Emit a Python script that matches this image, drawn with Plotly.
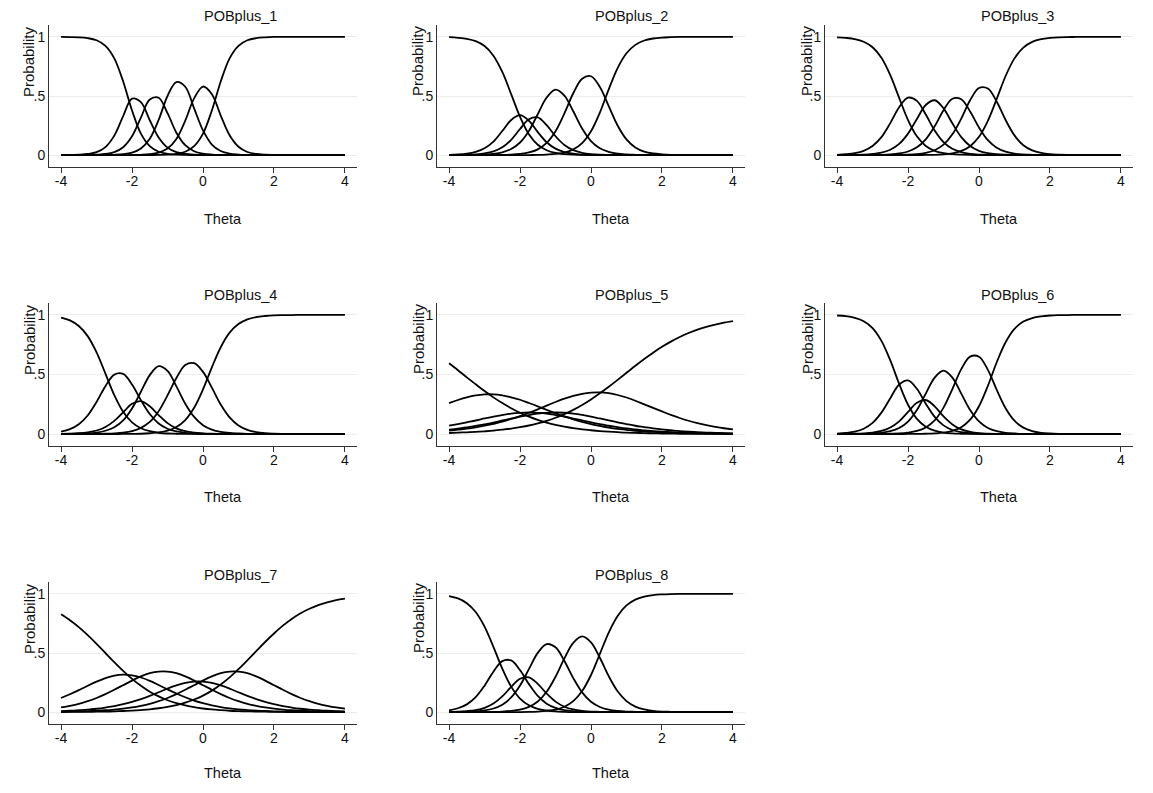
import plotly.graph_objects as go

# Theta grid (x values)
THETA = [-4.0, -3.75, -3.5, -3.25, -3.0, -2.75, -2.5, -2.25, -2.0, -1.75, -1.5,
         -1.25, -1.0, -0.75, -0.5, -0.25, 0.0, 0.25, 0.5, 0.75, 1.0, 1.25,
         1.5, 1.75, 2.0, 2.25, 2.5, 2.75, 3.0, 3.25, 3.5, 3.75, 4.0]

ITEMS = ["POBplus_1", "POBplus_2", "POBplus_3", "POBplus_4",
         "POBplus_5", "POBplus_6", "POBplus_7", "POBplus_8"]

X_TICKS = [-4, -2, 0, 2, 4]
X_TICKTEXT = ["-4", "-2", "0", "2", "4"]
Y_TICKS = [0, 0.5, 1]
Y_TICKTEXT = ["0", ".5", "1"]

# Category probability curves (6 categories per item)
POB1 = [
    [.999, .998, .996, .989, .971, .924, .818, .623, .378, .182, .076, .029, .011, .004, .002, .001,
     0, 0, 0, 0, 0, 0, 0, 0, 0, 0, 0, 0, 0, 0, 0, 0, 0],
    [.001, .001, .004, .010, .025, .068, .165, .330, .478, .448, .295, .150, .064, .025, .010, .004,
     .002, .001, 0, 0, 0, 0, 0, 0, 0, 0, 0, 0, 0, 0, 0, 0, 0],
    [0, 0, .001, .001, .004, .010, .026, .067, .159, .317, .470, .485, .355, .190, .084, .033,
     .013, .005, .002, .001, 0, 0, 0, 0, 0, 0, 0, 0, 0, 0, 0, 0, 0],
    [0, 0, 0, 0, 0, .001, .003, .008, .022, .057, .139, .298, .500, .618, .578, .395,
     .209, .090, .035, .013, .005, .002, .001, 0, 0, 0, 0, 0, 0, 0, 0, 0, 0],
    [0, 0, 0, 0, 0, 0, 0, 0, .001, .003, .008, .022, .056, .137, .292, .480,
     .580, .515, .335, .168, .071, .027, .010, .004, .002, .001, 0, 0, 0, 0, 0, 0, 0],
    [0, 0, 0, 0, 0, 0, 0, 0, 0, 0, .001, .002, .004, .011, .029, .076,
     .182, .378, .623, .818, .924, .971, .989, .996, .999, .999, 1, 1, 1, 1, 1, 1, 1],
]

POB2 = [
    [.997, .992, .983, .963, .922, .841, .703, .516, .324, .177, .088, .042, .019, .009, .004, .002,
     .001, 0, 0, 0, 0, 0, 0, 0, 0, 0, 0, 0, 0, 0, 0, 0, 0],
    [.003, .006, .013, .028, .058, .115, .204, .297, .338, .291, .195, .109, .055, .026, .012, .005,
     .002, .002, .001, 0, 0, 0, 0, 0, 0, 0, 0, 0, 0, 0, 0, 0, 0],
    [.001, .001, .003, .007, .015, .032, .067, .130, .221, .303, .320, .254, .160, .086, .042, .020,
     .009, .004, .002, .001, .001, 0, 0, 0, 0, 0, 0, 0, 0, 0, 0, 0, 0],
    [0, .001, .001, .002, .005, .011, .024, .052, .107, .205, .346, .487, .554, .504, .371, .225,
     .119, .058, .028, .012, .006, .003, .001, .001, 0, 0, 0, 0, 0, 0, 0, 0, 0],
    [0, 0, 0, 0, 0, .001, .002, .005, .011, .023, .049, .103, .202, .353, .523, .646,
     .667, .576, .414, .251, .133, .065, .030, .014, .007, .003, .001, .001, 0, 0, 0, 0, 0],
    [0, 0, 0, 0, 0, 0, 0, 0, 0, .001, .002, .005, .010, .022, .049, .102,
     .202, .360, .556, .736, .861, .932, .969, .986, .994, .997, .999, .999, 1, 1, 1, 1, 1],
]

POB3 = [
    [.996, .991, .981, .958, .912, .823, .676, .484, .297, .159, .078, .037, .017, .008, .004, .002,
     .001, 0, 0, 0, 0, 0, 0, 0, 0, 0, 0, 0, 0, 0, 0, 0, 0],
    [.003, .008, .017, .037, .077, .152, .271, .405, .486, .459, .343, .209, .111, .054, .026, .011,
     .005, .003, .001, .001, 0, 0, 0, 0, 0, 0, 0, 0, 0, 0, 0, 0, 0],
    [0, .001, .002, .004, .010, .021, .046, .095, .182, .306, .424, .464, .396, .269, .153, .078,
     .037, .017, .008, .004, .002, .001, 0, 0, 0, 0, 0, 0, 0, 0, 0, 0, 0],
    [0, 0, 0, .001, .001, .003, .007, .015, .031, .066, .134, .244, .380, .477, .473, .369,
     .234, .127, .063, .030, .013, .006, .003, .001, .001, 0, 0, 0, 0, 0, 0, 0, 0],
    [0, 0, 0, 0, 0, 0, .001, .002, .004, .009, .020, .042, .089, .176, .309, .464,
     .568, .563, .452, .297, .167, .084, .040, .019, .008, .004, .002, .001, 0, 0, 0, 0, 0],
    [0, 0, 0, 0, 0, 0, 0, 0, 0, .001, .002, .003, .007, .016, .036, .076,
     .155, .290, .476, .669, .818, .909, .957, .980, .991, .996, .998, .999, 1, 1, 1, 1, 1],
]

POB4 = [
    [.978, .954, .907, .822, .686, .508, .327, .187, .098, .049, .024, .011, .005, .003, .001, .001,
     0, 0, 0, 0, 0, 0, 0, 0, 0, 0, 0, 0, 0, 0, 0, 0, 0],
    [.020, .041, .083, .156, .270, .402, .499, .505, .417, .285, .168, .089, .045, .022, .011, .005,
     .003, .001, .001, 0, 0, 0, 0, 0, 0, 0, 0, 0, 0, 0, 0, 0, 0],
    [.002, .003, .007, .015, .030, .060, .111, .183, .254, .277, .234, .159, .092, .048, .024, .012,
     .006, .003, .001, .001, 0, 0, 0, 0, 0, 0, 0, 0, 0, 0, 0, 0, 0],
    [.001, .002, .003, .006, .013, .028, .057, .115, .215, .355, .495, .570, .530, .400, .255, .144,
     .075, .037, .018, .009, .005, .002, .001, .001, 0, 0, 0, 0, 0, 0, 0, 0, 0],
    [0, 0, 0, .001, .001, .003, .006, .012, .025, .052, .102, .192, .325, .470, .580, .595,
     .522, .390, .248, .140, .072, .036, .017, .008, .004, .002, .001, 0, 0, 0, 0, 0, 0],
    [0, 0, 0, 0, 0, 0, 0, .001, .002, .003, .007, .014, .029, .060, .118, .221,
     .375, .560, .729, .851, .923, .962, .982, .991, .996, .998, .999, 1, 1, 1, 1, 1, 1],
]

POB5 = [
    [.594, .536, .476, .418, .361, .308, .260, .217, .179, .147, .120, .097, .078, .063, .050, .040,
     .032, .025, .020, .016, .012, .010, .008, .006, .005, .004, .003, .002, .002, .002, .001, .001, .001],
    [.260, .286, .308, .324, .333, .333, .325, .309, .288, .261, .233, .203, .175, .148, .124, .102,
     .084, .069, .055, .044, .036, .028, .022, .018, .014, .011, .009, .008, .006, .005, .004, .003, .002],
    [.070, .084, .099, .114, .131, .147, .160, .172, .178, .181, .178, .172, .160, .146, .130, .115,
     .098, .083, .070, .058, .047, .039, .031, .025, .020, .016, .013, .010, .009, .006, .005, .004, .003],
    [.038, .046, .057, .069, .082, .097, .114, .129, .146, .160, .171, .178, .181, .179, .172, .161,
     .147, .131, .115, .099, .084, .070, .059, .048, .039, .032, .025, .020, .016, .013, .010, .008, .006],
    [.029, .037, .046, .057, .070, .086, .104, .127, .151, .179, .208, .239, .269, .297, .321, .338,
     .348, .350, .343, .328, .307, .280, .250, .220, .190, .161, .135, .112, .092, .075, .061, .049, .040],
    [.009, .012, .015, .018, .023, .029, .037, .046, .058, .072, .090, .111, .137, .167, .203, .244,
     .291, .342, .397, .455, .514, .573, .630, .683, .732, .776, .815, .848, .876, .900, .919, .935, .948],
]

POB6 = [
    [.995, .989, .975, .947, .889, .782, .618, .421, .246, .128, .062, .029, .013, .006, .003, .001,
     .001, 0, 0, 0, 0, 0, 0, 0, 0, 0, 0, 0, 0, 0, 0, 0, 0],
    [.004, .010, .021, .045, .094, .180, .301, .416, .451, .380, .255, .144, .073, .034, .016, .007,
     .003, .002, .001, 0, 0, 0, 0, 0, 0, 0, 0, 0, 0, 0, 0, 0, 0],
    [.001, .001, .003, .006, .012, .026, .055, .107, .186, .263, .286, .233, .148, .081, .039, .019,
     .008, .004, .002, .001, .001, 0, 0, 0, 0, 0, 0, 0, 0, 0, 0, 0, 0],
    [0, .001, .001, .002, .005, .011, .024, .051, .105, .202, .340, .474, .532, .474, .340, .202,
     .106, .051, .024, .011, .005, .002, .001, .001, 0, 0, 0, 0, 0, 0, 0, 0, 0],
    [0, 0, 0, 0, .001, .001, .003, .005, .012, .026, .056, .115, .222, .378, .545, .650,
     .649, .539, .371, .217, .112, .054, .025, .011, .005, .002, .001, .001, 0, 0, 0, 0, 0],
    [0, 0, 0, 0, 0, 0, 0, 0, .001, .001, .003, .006, .012, .027, .058, .121,
     .234, .405, .603, .771, .883, .944, .974, .988, .995, .998, .999, 1, 1, 1, 1, 1, 1],
]

POB7 = [
    [.827, .777, .719, .651, .578, .500, .423, .349, .281, .223, .173, .133, .101, .076, .057, .042,
     .031, .023, .017, .012, .009, .007, .005, .004, .003, .002, .001, .001, .001, .001, 0, 0, 0],
    [.120, .151, .186, .223, .258, .288, .309, .317, .311, .293, .265, .230, .193, .158, .126, .098,
     .076, .057, .043, .032, .024, .018, .013, .010, .007, .005, .004, .003, .002, .001, .001, .001, .001],
    [.040, .054, .071, .093, .120, .152, .189, .228, .267, .302, .329, .343, .343, .329, .302, .267,
     .228, .189, .152, .120, .093, .071, .054, .040, .030, .022, .016, .012, .009, .007, .005, .004, .003],
    [.009, .012, .016, .021, .029, .039, .051, .067, .087, .111, .138, .168, .199, .226, .247, .258,
     .258, .247, .226, .199, .168, .138, .111, .087, .067, .051, .039, .029, .021, .016, .012, .009, .006],
    [.004, .005, .007, .009, .012, .016, .022, .030, .040, .054, .071, .093, .120, .152, .189, .228,
     .267, .302, .329, .343, .343, .329, .302, .267, .228, .189, .152, .120, .093, .071, .054, .040, .030],
    [.001, .002, .002, .003, .004, .005, .007, .010, .013, .018, .024, .033, .045, .060, .080, .107,
     .140, .182, .234, .294, .363, .438, .516, .593, .665, .731, .788, .836, .874, .905, .928, .947, .960],
]

POB8 = [
    [.981, .961, .921, .847, .723, .552, .368, .216, .115, .058, .028, .014, .006, .003, .001, .001,
     0, 0, 0, 0, 0, 0, 0, 0, 0, 0, 0, 0, 0, 0, 0, 0, 0],
    [.016, .033, .066, .127, .224, .342, .431, .437, .355, .237, .137, .072, .036, .017, .008, .004,
     .002, .001, .001, 0, 0, 0, 0, 0, 0, 0, 0, 0, 0, 0, 0, 0, 0],
    [.002, .004, .009, .018, .037, .073, .133, .213, .282, .294, .239, .157, .089, .046, .023, .011,
     .005, .003, .001, .001, 0, 0, 0, 0, 0, 0, 0, 0, 0, 0, 0, 0, 0],
    [.001, .002, .003, .007, .015, .031, .063, .124, .225, .364, .501, .575, .548, .433, .288, .167,
     .088, .044, .021, .010, .005, .003, .001, .001, 0, 0, 0, 0, 0, 0, 0, 0, 0],
    [0, 0, 0, .001, .001, .002, .005, .011, .022, .045, .090, .172, .299, .454, .586, .640,
     .590, .460, .304, .176, .093, .047, .023, .011, .005, .003, .001, .001, 0, 0, 0, 0, 0],
    [0, 0, 0, 0, 0, 0, 0, .001, .001, .002, .005, .011, .022, .046, .093, .178,
     .314, .493, .673, .813, .902, .951, .976, .989, .995, .998, .999, .999, 1, 1, 1, 1, 1],
]

PANELS = [POB1, POB2, POB3, POB4, POB5, POB6, POB7, POB8]

for p in PANELS:
    for c in p:
        assert len(c) == len(THETA), len(c)

# The page body has an 8px default margin; the figure fills the rest of the window.
OFF = 8
W, H = 1153 - OFF, 793 - OFF
# pixel frames (in window coordinates) of each panel's axes
COLS = [(49, 357), (437, 745), (825, 1133)]
ROWS = [(25, 167), (303, 446), (582, 724)]
TITLE_X = [240, 631, 1018]
TITLE_Y = [16, 295, 575]
THETA_X = [223, 611, 999]
THETA_Y = [219, 497, 773]
PROB_X = [29, 418, 807]
PROB_Y = [61, 339, 618]


def px(x):
    return (x - OFF) / W


def py(y):
    return 1 - (y - OFF) / H


FONT = "Liberation Sans, Arial, Helvetica, sans-serif"

fig = go.Figure()
layout = dict(
    width=W, height=H,
    margin=dict(l=0, r=0, t=0, b=0),
    paper_bgcolor="white", plot_bgcolor="white",
    showlegend=False,
    font=dict(family=FONT, color="#111111", size=14),
)
annotations = []

for k, (name, panel) in enumerate(zip(ITEMS, PANELS)):
    r, c = divmod(k, 3)
    ax = "" if k == 0 else str(k + 1)
    for cat in panel:
        fig.add_trace(go.Scatter(
            x=THETA, y=cat, mode="lines",
            line=dict(color="black", width=1.8, shape="spline", smoothing=1.0),
            xaxis="x" + ax, yaxis="y" + ax, hoverinfo="skip",
        ))
    x0, x1 = COLS[c]
    y0, y1 = ROWS[r]
    layout["xaxis" + ax] = dict(
        domain=[px(x0), px(x1)], anchor="y" + ax,
        range=[-4.34, 4.34], showline=True, linecolor="#333333", linewidth=1,
        ticks="outside", ticklen=5, tickcolor="#333333", tickwidth=1,
        ticklabelstandoff=-4,
        tickvals=X_TICKS, ticktext=X_TICKTEXT, showgrid=False, zeroline=False,
        tickfont=dict(size=14, family=FONT, color="#111111"),
    )
    layout["yaxis" + ax] = dict(
        domain=[py(y1), py(y0)], anchor="x" + ax,
        range=[-0.1, 1.1], showline=True, linecolor="#333333", linewidth=1,
        ticks="", tickvals=Y_TICKS, ticktext=Y_TICKTEXT,
        showgrid=True, gridcolor="#ececec", gridwidth=1, zeroline=False,
        tickfont=dict(size=14, family=FONT, color="#111111"),
    )
    annotations.append(dict(
        text=name, x=px(TITLE_X[c]), y=py(TITLE_Y[r]), xref="paper", yref="paper",
        xanchor="center", yanchor="middle", showarrow=False,
        font=dict(size=14.5, family=FONT, color="#111111"),
    ))
    annotations.append(dict(
        text="Theta", x=px(THETA_X[c]), y=py(THETA_Y[r]), xref="paper", yref="paper",
        xanchor="center", yanchor="middle", showarrow=False,
        font=dict(size=14.5, family=FONT, color="#111111"),
    ))
    annotations.append(dict(
        text="Probability", x=px(PROB_X[c]), y=py(PROB_Y[r]), xref="paper", yref="paper",
        xanchor="center", yanchor="middle", showarrow=False, textangle=-90,
        font=dict(size=15, family=FONT, color="#111111"),
    ))

layout["annotations"] = annotations
fig.update_layout(**layout)
fig.write_html("out.html")
